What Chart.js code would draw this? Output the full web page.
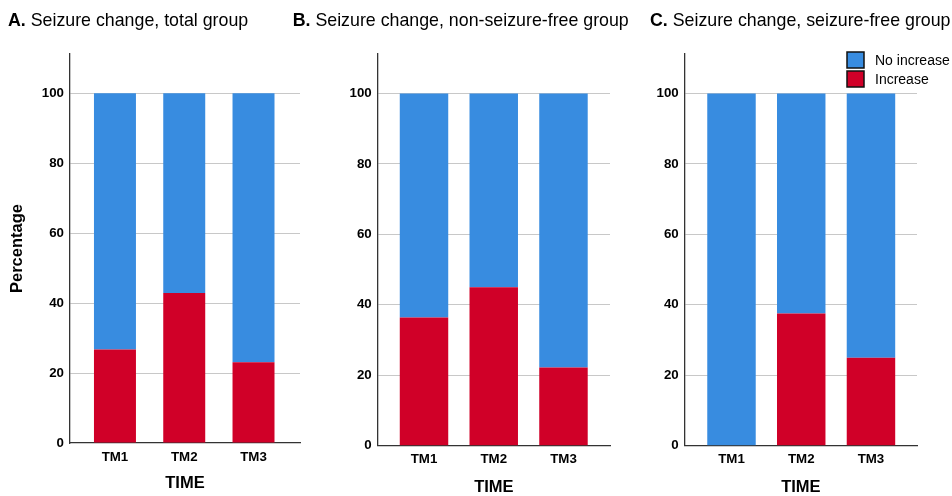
<!DOCTYPE html>
<html>
<head>
<meta charset="utf-8">
<script src="https://cdn.jsdelivr.net/npm/chart.js@4/dist/chart.umd.min.js"></script>
<style>
  html, body { margin: 0; padding: 0; background: #fff; width: 952px; height: 496px; overflow: hidden; }
  body { position: relative; }
  .panel { position: absolute; top: 0; height: 496px; }
</style>
</head>
<body>
<div class="panel" style="left:0px;width:310px"><canvas id="chartA"></canvas></div>
<div class="panel" style="left:285px;width:355px"><canvas id="chartB"></canvas></div>
<div class="panel" style="left:640px;width:312px"><canvas id="chartC"></canvas></div>
<script>
// Time points on the x axis
const timeLabels = ['TM1', 'TM2', 'TM3'];
const timeIndex = [1, 2, 3];

// Percentages per time point (total group)
const increaseA   = [26.7, 42.9, 23.1];
const noIncreaseA = [73.3, 57.1, 76.9];

// Non-seizure-free group
const increaseB   = [36.4, 45.0, 22.2];
const noIncreaseB = [63.6, 55.0, 77.8];

// Seizure-free group
const increaseC   = [0, 37.5, 25.0];
const noIncreaseC = [100, 62.5, 75.0];

const yTicks = [0, 20, 40, 60, 80, 100];
const seriesNames = ['Increase', 'No increase'];

const BLUE = '#388ce0';
const RED = '#d00028';
const FONT = '"Liberation Sans", Arial, sans-serif';

// Panel heading: bold letter followed by regular text
const headingPlugin = {
  id: 'panelHeading',
  afterDraw(chart, args, opts) {
    if (!opts || !opts.letter) return;
    const ctx = chart.ctx;
    ctx.save();
    ctx.fillStyle = '#000';
    ctx.textBaseline = 'alphabetic';
    ctx.textAlign = 'left';
    ctx.font = 'bold 17.8px ' + FONT;
    ctx.fillText(opts.letter, opts.x, opts.y);
    const w = ctx.measureText(opts.letter).width;
    ctx.font = '17.8px ' + FONT;
    ctx.fillText(' ' + opts.text, opts.x + w, opts.y);
    ctx.restore();
  }
};

// Boxed legend, top series first
const boxLegendPlugin = {
  id: 'boxLegend',
  afterDraw(chart, args, opts) {
    if (!opts || !opts.show) return;
    const ctx = chart.ctx;
    const items = chart.data.datasets.slice().reverse();
    ctx.save();
    items.forEach((ds, i) => {
      const top = opts.y + i * opts.step;
      ctx.fillStyle = ds.backgroundColor;
      ctx.fillRect(opts.x, top, opts.box, opts.box - 1);
      ctx.lineWidth = 1.5;
      ctx.strokeStyle = '#111';
      ctx.strokeRect(opts.x, top, opts.box, opts.box - 1);
      ctx.fillStyle = '#000';
      ctx.font = '14px ' + FONT;
      ctx.textBaseline = 'middle';
      ctx.textAlign = 'left';
      ctx.fillText(ds.label, opts.textX, top + opts.box / 2 + 1);
    });
    ctx.restore();
  }
};

function makePanel(id, p) {
  const toPoints = arr => timeIndex.map((x, i) => ({ x: x, y: arr[i] }));
  return new Chart(document.getElementById(id), {
    type: 'bar',
    data: {
      datasets: [
        { label: seriesNames[0], data: toPoints(p.increase), backgroundColor: RED,
          barPercentage: p.barFrac, categoryPercentage: 1 },
        { label: seriesNames[1], data: toPoints(p.noIncrease), backgroundColor: BLUE,
          barPercentage: p.barFrac, categoryPercentage: 1 }
      ]
    },
    options: {
      responsive: true,
      maintainAspectRatio: false,
      animation: false,
      layout: { padding: { top: 54, left: 0, right: p.padRight, bottom: 0 } },
      plugins: {
        legend: { display: false },
        tooltip: { enabled: false },
        panelHeading: { letter: p.letter, text: p.title, x: p.headX, y: 26 },
        boxLegend: p.legend || { show: false }
      },
      scales: {
        x: {
          type: 'linear',
          stacked: true,
          offset: false,
          min: p.xMin,
          max: p.xMax,
          z: 1,
          grid: { display: false, drawTicks: false },
          border: { display: true, color: '#333', width: 1.3 },
          afterBuildTicks(scale) { scale.ticks = timeIndex.map(v => ({ value: v })); },
          afterFit(scale) { scale.height = p.xHeight; },
          ticks: {
            padding: 6,
            maxRotation: 0,
            autoSkip: false,
            color: '#000',
            font: { family: FONT, size: 13.3, weight: 'bold' },
            callback: v => timeLabels[timeIndex.indexOf(v)]
          },
          title: {
            display: true,
            text: 'TIME',
            color: '#000',
            font: { family: FONT, size: 16.5, weight: 'bold', lineHeight: 1 },
            padding: { top: 0, bottom: p.timePad }
          }
        },
        y: {
          type: 'linear',
          stacked: true,
          min: 0,
          max: 111.2,
          afterBuildTicks(scale) { scale.ticks = yTicks.map(v => ({ value: v })); },
          afterFit(scale) { scale.width = p.yWidth; },
          grid: {
            drawTicks: false,
            lineWidth: 1,
            color: c => (c.tick && c.tick.value === 0) ? 'rgba(0,0,0,0)' : '#c8c8c8'
          },
          border: { display: true, color: '#333', width: 1.3 },
          ticks: {
            padding: 6,
            color: '#000',
            font: { family: FONT, size: 13.3, weight: 'bold' }
          },
          title: {
            display: !!p.yTitle,
            text: 'Percentage',
            color: '#000',
            font: { family: FONT, size: 16.5, weight: 'bold' },
            padding: { top: 8, bottom: 0 }
          }
        }
      }
    },
    plugins: [headingPlugin, boxLegendPlugin]
  });
}

makePanel('chartA', {
  letter: 'A.', title: 'Seizure change, total group', headX: 8,
  increase: increaseA, noIncrease: noIncreaseA,
  yWidth: 70, padRight: 10, xHeight: 53, timePad: 4.5,
  xMin: 0.351, xMax: 3.671, barFrac: 0.606, yTitle: true
});

makePanel('chartB', {
  letter: 'B.', title: 'Seizure change, non-seizure-free group', headX: 7.7,
  increase: increaseB, noIncrease: noIncreaseB,
  yWidth: 92.7, padRight: 30, xHeight: 50.3, timePad: 0,
  xMin: 0.336, xMax: 3.667, barFrac: 0.695, yTitle: false
});

makePanel('chartC', {
  letter: 'C.', title: 'Seizure change, seizure-free group', headX: 10,
  increase: increaseC, noIncrease: noIncreaseC,
  yWidth: 44.7, padRight: 35, xHeight: 50.3, timePad: 0,
  xMin: 0.329, xMax: 3.66, barFrac: 0.695, yTitle: false,
  legend: { show: true, x: 207, y: 52, step: 19, box: 17, textX: 235 }
});
</script>
</body>
</html>
